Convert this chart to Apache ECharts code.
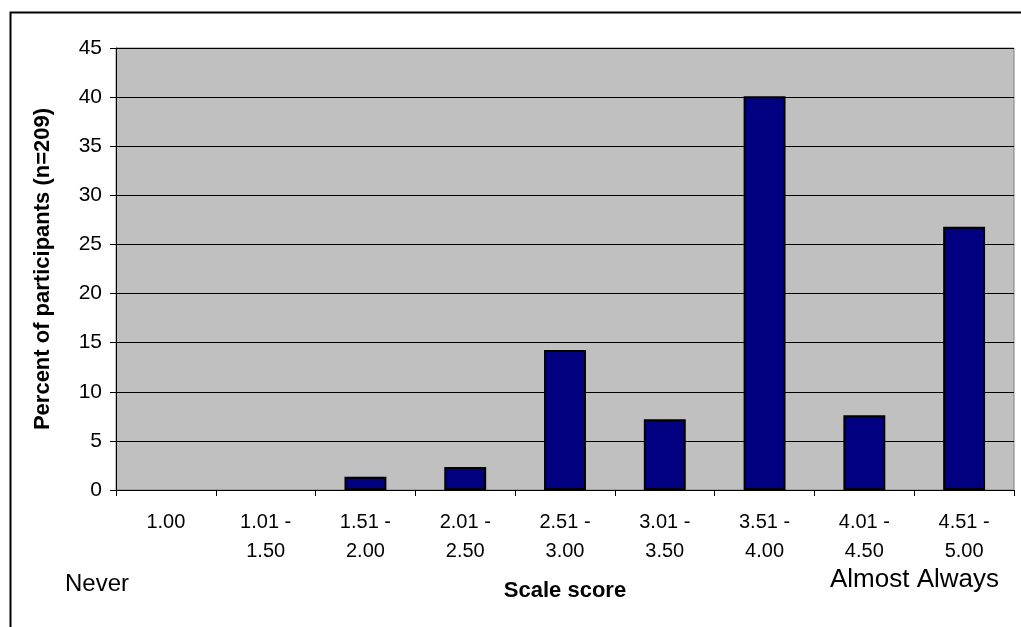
<!DOCTYPE html>
<html>
<head>
<meta charset="utf-8">
<script src="https://cdn.jsdelivr.net/npm/echarts@6/dist/echarts.min.js"></script>
<style>
html,body{margin:0;padding:0;background:#fff;}
#chart{width:1021px;height:627px;}
</style>
</head>
<body>
<div id="chart"></div>
<script>
const categories = ['1.00', '1.01 -\n1.50', '1.51 -\n2.00', '2.01 -\n2.50', '2.51 -\n3.00', '3.01 -\n3.50', '3.51 -\n4.00', '4.01 -\n4.50', '4.51 -\n5.00'];
const percentValues = [0, 0, 1.35, 2.35, 14.25, 7.2, 40.1, 7.6, 26.8];
const yTicks = { min: 0, max: 45, interval: 5 };
const yAxisTitle = 'Percent of participants (n=209)';
const xAxisTitle = 'Scale score';
const leftNote = 'Never';
const rightNote = 'Almost Always';

const chart = echarts.init(document.getElementById('chart'));
const font = 'Liberation Sans, Arial, sans-serif';
const barData = percentValues.map(v => v === 0
  ? { value: v, itemStyle: { borderWidth: 0, opacity: 0 } }
  : { value: v });
chart.setOption({
  backgroundColor: '#ffffff',
  animation: false,
  grid: {
    left: 116, right: 7, top: 48, bottom: 137,
    show: true, backgroundColor: '#C0C0C0', borderColor: '#808080', borderWidth: 1
  },
  xAxis: {
    type: 'category',
    data: categories,
    name: xAxisTitle,
    nameLocation: 'middle',
    nameGap: 90,
    nameTextStyle: { fontFamily: font, fontWeight: 'bold', fontSize: 22, color: '#000' },
    axisLine: { lineStyle: { color: '#000', width: 1 } },
    axisTick: { show: true, length: 6, lineStyle: { color: '#000' } },
    axisLabel: { fontFamily: font, fontSize: 20, color: '#000', margin: 18, lineHeight: 29, interval: 0 },
    splitLine: { show: false }
  },
  yAxis: {
    type: 'value',
    min: yTicks.min, max: yTicks.max, interval: yTicks.interval,
    name: yAxisTitle,
    nameLocation: 'middle',
    nameGap: 62,
    nameTextStyle: { fontFamily: font, fontWeight: 'bold', fontSize: 22, color: '#000' },
    axisLine: { show: true, lineStyle: { color: '#000', width: 1 } },
    axisTick: { show: true, length: 6, lineStyle: { color: '#000' } },
    axisLabel: { fontFamily: font, fontSize: 21, color: '#000', margin: 14 },
    splitLine: { show: true, lineStyle: { color: '#000', width: 1 } }
  },
  series: [{
    type: 'bar',
    data: barData,
    barWidth: '42%',
    itemStyle: { color: '#000080', borderColor: '#000', borderWidth: 2 }
  }],
  graphic: [
    { type: 'rect', left: 8, top: 10, shape: { width: 1030, height: 640 }, style: { fill: 'none', stroke: '#000', lineWidth: 2 }, silent: true },
    { type: 'text', left: 65, top: 572, style: { text: leftNote, font: '24px Liberation Sans, Arial, sans-serif', fill: '#000' } },
    { type: 'text', left: 830, top: 567, style: { text: rightNote, font: '26px Liberation Sans, Arial, sans-serif', fill: '#000' } }
  ]
});
</script>
</body>
</html>
